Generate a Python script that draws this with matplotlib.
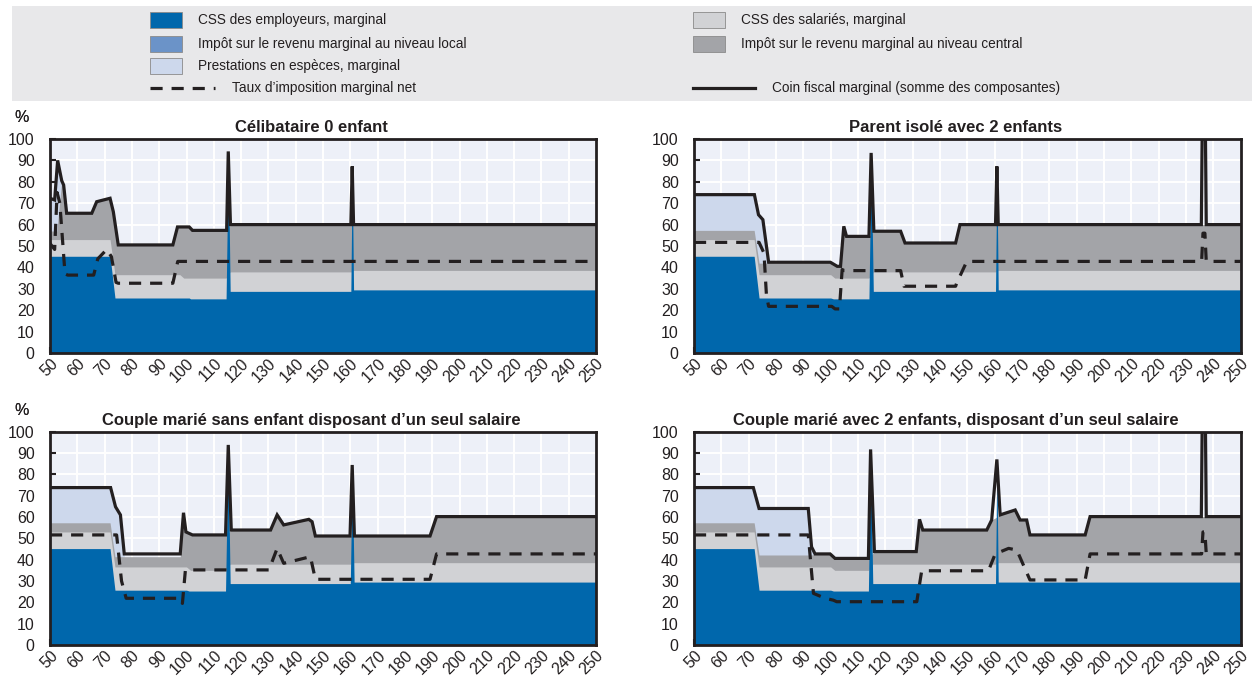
import matplotlib
matplotlib.use("Agg")
import matplotlib.pyplot as plt
from matplotlib.patches import Rectangle
from matplotlib.lines import Line2D

plt.rcParams['font.family'] = ['Liberation Sans', 'DejaVu Sans']

# Couleurs
C_EMP = '#0067ac'
C_LOCAL = '#6b93c8'
C_SAL = '#d1d2d5'
C_CENT = '#a3a4a8'
C_PREST = '#cdd8ec'
C_LINE = '#231f20'
C_BG = '#edf0f8'
C_LEG = '#e8e8ea'

x_ticks = list(range(50, 251, 10))
y_ticks = list(range(0, 101, 10))

titres = ["Célibataire 0 enfant",
          "Parent isolé avec 2 enfants",
          "Couple marié sans enfant disposant d’un seul salaire",
          "Couple marié avec 2 enfants, disposant d’un seul salaire"]

legende = ["CSS des employeurs, marginal",
           "Impôt sur le revenu marginal au niveau local",
           "Prestations en espèces, marginal",
           "Taux d’imposition marginal net",
           "CSS des salariés, marginal",
           "Impôt sur le revenu marginal au niveau central",
           "Coin fiscal marginal (somme des composantes)"]

# ---- Célibataire 0 enfant (niveaux cumulés, en %) ----
cel_emp_x = [50, 72, 73.8, 101, 101.5, 114.5, 115.3, 116, 160.2, 160.7, 161.2, 250]
cel_emp_y = [45.2, 45.2, 25.7, 25.7, 25.3, 25.3, 92, 28.8, 28.8, 85, 29.5, 29.5]
cel_sal_x = [50, 72, 73.8, 97.6, 99, 114.5, 116, 160.5, 161, 250]
cel_sal_y = [53, 53, 36.6, 36.6, 35, 35, 37.9, 37.9, 38.6, 38.6]
cel_cent_x = [50, 52.5, 54.3, 55, 56.1, 65.3, 67.1, 72, 73.2, 75, 95, 96.7, 101, 102.2, 114.7, 116.1, 250]
cel_cent_y = [57, 57, 80.5, 78.5, 65.3, 65.3, 70.7, 72.3, 66, 50.5, 50.5, 58.9, 58.9, 57.3, 57.3, 60, 60]
cel_prest_x = [50, 51.7, 52.8, 54.3, 55, 56.1]
cel_prest_y = [72.3, 71.5, 90, 80.5, 78.5, 65.3]
cel_tot_x = [50, 51.7, 52.8, 54.3, 55, 56.1, 65.3, 67.1, 72, 73.2, 75, 95, 96.7, 101, 102.2,
             114.7, 115.3, 116.1, 160.2, 160.7, 161.2, 250]
cel_tot_y = [72.3, 71.5, 90, 80.5, 78.5, 65.3, 65.3, 70.7, 72.3, 66, 50.5, 50.5, 58.9, 58.9, 57.3,
             57.3, 94.2, 60, 60, 87.2, 60, 60]
cel_net_x = [50, 51.7, 52.6, 53.6, 55.5, 56.5, 66, 67.5, 70.8, 72.5, 74.2, 75, 95, 96.8, 250]
cel_net_y = [51.2, 48.4, 75, 70, 37, 36.4, 36.4, 44, 48.4, 45, 33, 32.6, 32.6, 42.8, 42.8]

# ---- Parent isolé avec 2 enfants ----
par_emp_x = [50, 72, 73.8, 100, 101, 114, 114.8, 115.6, 160.3, 160.8, 161.3, 250]
par_emp_y = [45.2, 45.2, 25.7, 25.7, 25.3, 25.3, 91, 28.8, 28.8, 85, 29.5, 29.5]
par_sal_x = [50, 72, 73.8, 100, 101.5, 114, 115.6, 160.3, 161.3, 250]
par_sal_y = [53, 53, 36.6, 36.6, 35, 35, 37.9, 37.9, 38.6, 38.6]
par_cent_x = [50, 72, 73.8, 100, 102.4, 103.6, 104.8, 105.8, 114, 115.8, 125.6, 127.2, 145.7, 147.3, 250]
par_cent_y = [57.3, 57.3, 42, 42, 40.5, 40.5, 59.2, 54.5, 54.5, 56.9, 56.9, 51.4, 51.4, 60, 60]
par_prest_x = [50, 72.1, 73.6, 75.2, 77.3]
par_prest_y = [74, 74, 64.6, 62.3, 42.4]
par_tot_x = [50, 72.1, 73.6, 75.2, 77.3, 99.9, 102.4, 103.6, 104.8, 105.8, 114, 114.8, 115.8, 125.6,
             127.2, 145.7, 147.3, 160.3, 160.8, 161.3, 235.6, 236.1, 236.9, 237.4, 250]
par_tot_y = [74, 74, 64.6, 62.3, 42.4, 42.4, 40.5, 40.5, 59.2, 54.5, 54.5, 93.5, 56.9, 56.9,
             51.4, 51.4, 60, 60, 87.2, 60, 60, 130, 130, 60, 60]
par_net_x = [50, 73.8, 75.6, 76.5, 77.3, 100.4, 101.6, 103.2, 104.2, 105, 125.6, 126.8, 145.7, 146.1,
             149.8, 235.7, 236.2, 236.9, 237.4, 250]
par_net_y = [51.7, 51.7, 46.7, 27, 21.8, 21.8, 20.6, 20.6, 39, 38.5, 38.5, 31.2, 31.2, 32.7,
             42.8, 42.8, 56, 56, 42.8, 42.8]

# ---- Couple marié sans enfant, un seul salaire ----
cms_emp_x = [50, 72, 73.8, 100, 101, 114.3, 115.2, 116, 160, 160.7, 161.4, 250]
cms_emp_y = [45.2, 45.2, 25.7, 25.7, 25.3, 25.3, 91, 28.8, 28.8, 82, 29.5, 29.5]
cms_sal_x = [50, 72, 73.8, 100, 101.5, 114.3, 116, 160, 161.4, 250]
cms_sal_y = [53, 53, 36.6, 36.6, 35, 35, 37.9, 37.9, 38.6, 38.6]
cms_cent_x = [50, 72, 73.8, 97.7, 98.9, 99.8, 102.2, 114.3, 116.4, 130.8, 133.2, 135.6, 144.8, 146,
              147.2, 189.2, 191.6, 250]
cms_cent_y = [57.3, 57.3, 41.4, 41.4, 62, 53, 51.6, 51.6, 53.9, 53.9, 61, 56.3, 58.9, 57.8,
              51.1, 51.1, 60.2, 60.2]
cms_prest_x = [50, 72.2, 74, 75.8, 77.2]
cms_prest_y = [73.8, 73.8, 64.8, 61, 42.7]
cms_tot_x = [50, 72.2, 74, 75.8, 77.2, 97.7, 98.9, 99.8, 102.2, 114.3, 115.3, 116.4, 130.8, 133.2,
             135.6, 144.8, 146, 147.2, 159.9, 160.7, 161.5, 189.2, 191.6, 250]
cms_tot_y = [73.8, 73.8, 64.8, 61, 42.7, 42.7, 62, 53, 51.6, 51.6, 93.8, 53.9, 53.9, 61,
             56.3, 58.9, 57.8, 51.1, 51.1, 84.4, 51.1, 51.1, 60.2, 60.2]
cms_net_x = [50, 74.4, 76.2, 77.9, 97.7, 98.5, 99.6, 130.2, 133.2, 135.6, 145.4, 147.2, 189.2, 191.6, 250]
cms_net_y = [51.6, 51.6, 30, 21.9, 21.9, 19.5, 35.2, 35.2, 45.3, 38.3, 41.4, 30.8, 30.8, 42.7, 42.7]

# ---- Couple marié avec 2 enfants, un seul salaire ----
cme_emp_x = [50, 72, 73.8, 100, 101, 113.8, 114.6, 115.4, 160.3, 160.8, 161.3, 250]
cme_emp_y = [45.2, 45.2, 25.7, 25.7, 25.3, 25.3, 89, 28.8, 28.8, 85, 29.5, 29.5]
cme_sal_x = [50, 72, 73.8, 100, 101.5, 113.8, 115.4, 160.3, 161.3, 250]
cme_sal_y = [53, 53, 36.6, 36.6, 35, 35, 37.9, 37.9, 38.6, 38.6]
cme_cent_x = [50, 72, 73.8, 93, 94.3, 99.8, 101.6, 113.8, 116, 131.3, 132.5, 133.7, 157.1, 158.9,
              160.8, 162, 167.5, 169.3, 171.7, 172.9, 193.1, 194.9, 250]
cme_cent_y = [57.3, 57.3, 42.2, 42.2, 42.7, 42.7, 40.6, 40.6, 43.8, 43.8, 58.9, 53.9, 53.9, 58.6,
              60, 61, 63.3, 58.6, 58.6, 51.6, 51.6, 60.2, 60.2]
cme_prest_x = [50, 71.7, 73.8, 91.8, 93, 94.3]
cme_prest_y = [73.8, 73.8, 64, 64, 46, 42.7]
cme_tot_x = [50, 71.7, 73.8, 91.8, 93, 94.3, 99.8, 101.6, 113.8, 114.6, 116, 131.3, 132.5, 133.7,
             157.1, 158.9, 160.8, 162, 167.5, 169.3, 171.7, 172.9, 193.1, 194.9, 235.6, 236.1,
             236.9, 237.4, 250]
cme_tot_y = [73.8, 73.8, 64, 64, 46, 42.7, 42.7, 40.6, 40.6, 91.7, 43.8, 43.8, 58.9, 53.9,
             53.9, 58.6, 87, 61, 63.3, 58.6, 58.6, 51.6, 51.6, 60.2, 60.2, 130,
             130, 60.2, 60.2]
cme_net_x = [50, 91.8, 93.7, 98, 101, 102.2, 131.5, 133.3, 157.7, 160.2, 165.1, 168.1, 172.9, 193.1,
             194.9, 235.7, 236.2, 236.9, 237.4, 250]
cme_net_y = [51.6, 51.6, 24.2, 21.9, 21, 20.3, 20.3, 34.8, 34.8, 42.7, 45.3, 44.5, 30.5, 30.5,
             42.7, 42.7, 53, 53, 42.7, 42.7]

panneaux = [
    (cel_emp_x, cel_emp_y, cel_sal_x, cel_sal_y, cel_cent_x, cel_cent_y, cel_prest_x, cel_prest_y,
     cel_tot_x, cel_tot_y, cel_net_x, cel_net_y),
    (par_emp_x, par_emp_y, par_sal_x, par_sal_y, par_cent_x, par_cent_y, par_prest_x, par_prest_y,
     par_tot_x, par_tot_y, par_net_x, par_net_y),
    (cms_emp_x, cms_emp_y, cms_sal_x, cms_sal_y, cms_cent_x, cms_cent_y, cms_prest_x, cms_prest_y,
     cms_tot_x, cms_tot_y, cms_net_x, cms_net_y),
    (cme_emp_x, cme_emp_y, cme_sal_x, cme_sal_y, cme_cent_x, cme_cent_y, cme_prest_x, cme_prest_y,
     cme_tot_x, cme_tot_y, cme_net_x, cme_net_y),
]

W, H = 1252, 676
fig = plt.figure(figsize=(W / 100, H / 100), dpi=100)


def px_rect(l, t, r, b):
    return [l / W, 1 - b / H, (r - l) / W, (b - t) / H]


cadres = [(50, 139, 596, 353), (694, 139, 1240.7, 353),
          (50, 431.7, 596, 645), (694, 431.7, 1240.7, 645)]

DASH = (3.8, 2.8)

for i, (cadre, titre, d) in enumerate(zip(cadres, titres, panneaux)):
    emp_x, emp_y, sal_x, sal_y, cent_x, cent_y, pr_x, pr_y, tot_x, tot_y, net_x, net_y = d
    ax = fig.add_axes(px_rect(*cadre))
    ax.set_facecolor(C_BG)

    # couches empilées (niveaux cumulés, dessinées de haut en bas)
    ax.fill_between(pr_x, 0, pr_y, color=C_PREST, lw=0, zorder=2)
    ax.fill_between(cent_x, 0, cent_y, color=C_CENT, lw=0, zorder=3)
    ax.fill_between(sal_x, 0, sal_y, color=C_SAL, lw=0, zorder=4)
    ax.fill_between(emp_x, 0, emp_y, color=C_EMP, lw=0, zorder=5)

    ax.plot(net_x, net_y, color=C_LINE, lw=2.3, dashes=DASH, zorder=6)
    ax.plot(tot_x, tot_y, color=C_LINE, lw=2.3, solid_joinstyle='miter', zorder=7)

    ax.set_xlim(50, 250)
    ax.set_ylim(0, 100)
    ax.set_xticks(x_ticks)
    ax.set_yticks(y_ticks)
    ax.set_xticklabels([str(v) for v in x_ticks], rotation=45, ha='right',
                       rotation_mode='anchor', fontsize=11.5, color='#231f20')
    ax.tick_params(direction='in', length=4, width=1.5, color=C_LINE)
    ax.tick_params(axis='y', labelsize=11.5, labelcolor='#231f20', pad=11)
    ax.tick_params(axis='x', pad=2)
    ax.grid(True, color='white', lw=1.4, zorder=1)
    ax.set_axisbelow(True)
    for s in ax.spines.values():
        s.set_linewidth(2)
        s.set_color(C_LINE)
        s.set_zorder(8)
    ax.set_title(titre, fontsize=12, fontweight='bold', color='#231f20', pad=5, x=0.478)
    fig.text(22 / W, 1 - (cadre[1] - 21) / H, "%", fontsize=11.5, color='#231f20',
             ha='center', va='center')

# ---- légende ----
fig.add_artist(Rectangle((12 / W, 1 - 101 / H), (W - 12) / W, 95 / H,
                         transform=fig.transFigure, facecolor=C_LEG, edgecolor='none', zorder=0))


def patch(x, yc, couleur, texte):
    fig.add_artist(Rectangle((x / W, 1 - (yc + 8) / H), 32 / W, 16 / H,
                             transform=fig.transFigure, facecolor=couleur,
                             edgecolor='#8a8a8a', lw=0.6))
    fig.text((x + 48) / W, 1 - yc / H, texte, fontsize=9.8, color='#231f20',
             ha='left', va='center')


patch(150, 20, C_EMP, legende[0])
patch(150, 44, C_LOCAL, legende[1])
patch(150, 66, C_PREST, legende[2])
patch(693, 20, C_SAL, legende[4])
patch(693, 44, C_CENT, legende[5])

fig.add_artist(Line2D([150 / W, 215 / W], [1 - 88 / H, 1 - 88 / H], transform=fig.transFigure,
                      color=C_LINE, lw=2.3, dashes=DASH))
fig.text(232 / W, 1 - 88 / H, legende[3], fontsize=9.8, color='#231f20', ha='left', va='center')
fig.add_artist(Line2D([693 / W, 755 / W], [1 - 88 / H, 1 - 88 / H], transform=fig.transFigure,
                      color=C_LINE, lw=2.3))
fig.text(772 / W, 1 - 88 / H, legende[6], fontsize=9.8, color='#231f20', ha='left', va='center')

fig.savefig('out.png', dpi=100)
